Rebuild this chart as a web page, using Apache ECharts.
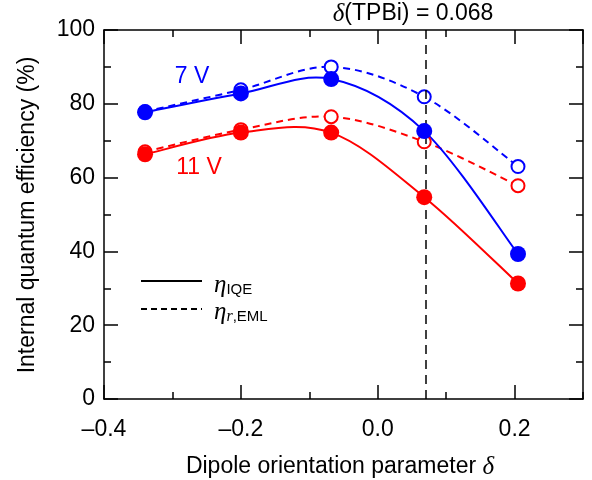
<!DOCTYPE html>
<html><head><meta charset="utf-8">
<script src="https://cdn.jsdelivr.net/npm/echarts@6/dist/echarts.min.js"></script>
<style>html,body{margin:0;padding:0;background:#fff}#c{width:592px;height:480px}</style>
</head><body><div id="c"></div>
<script>
// ---- data ----
const deltaValues = [-0.34, -0.2, -0.068, 0.068, 0.205];
const iqe7V  = [77.7, 82.8, 86.7, 72.6, 39.3];
const eml7V  = [77.9, 83.8, 90.0, 81.9, 63.0];
const iqe11V = [66.3, 72.2, 72.2, 54.7, 31.3];
const eml11V = [67.0, 73.0, 76.5, 69.7, 57.8];
const deltaTPBi = 0.068;
const xLabels = ['\u20130.4', '\u20130.2', '0.0', '0.2'];
const yLabels = ['0', '20', '40', '60', '80', '100'];

const FONT = 'Liberation Sans';
const BLUE = '#0000ff', RED = '#ff0000';
const pair = (xs, ys) => xs.map((x, i) => [x, ys[i]]);

const chart = echarts.init(document.getElementById('c'), null, {renderer: 'canvas'});

const baseX = {type: 'value', min: -0.4, max: 0.3, gridIndex: 0, splitLine: {show: false}};
const baseY = {type: 'value', min: 0, max: 100, interval: 20, gridIndex: 0, splitLine: {show: false}};
const lineStyleAxis = {color: '#000', width: 1.5};

function fmtX(v) {
  const idx = Math.round((v + 0.4) / 0.2);
  return xLabels[idx] !== undefined ? xLabels[idx] : '';
}

// smooth spline curve through the data points, drawn via the chart's own coordinates
function curveSeries(ys, color, dash, z) {
  const n = ys.length;
  return {
    type: 'custom', coordinateSystem: 'cartesian2d', xAxisIndex: 0, yAxisIndex: 0,
    z: z, silent: true, animation: false,
    data: pair(deltaValues, ys),
    renderItem: function (params, api) {
      const i = params.dataIndex;
      if (i >= n - 1) return null;
      const P = k => {
        const kk = Math.max(0, Math.min(n - 1, k));
        return api.coord([deltaValues[kk], ys[kk]]);
      };
      const p0 = P(i - 1), p1 = P(i), p2 = P(i + 1), p3 = P(i + 2);
      const t = 1 / 6;
      return {
        type: 'bezierCurve',
        shape: {
          x1: p1[0], y1: p1[1], x2: p2[0], y2: p2[1],
          cpx1: p1[0] + (p2[0] - p0[0]) * t, cpy1: p1[1] + (p2[1] - p0[1]) * t,
          cpx2: p2[0] - (p3[0] - p1[0]) * t, cpy2: p2[1] - (p3[1] - p1[1]) * t
        },
        style: {stroke: color, lineWidth: 2, fill: null, lineDash: dash}
      };
    }
  };
}

function markerSeries(ys, color, open, z) {
  return {
    type: 'line', data: pair(deltaValues, ys), z: z,
    symbol: open ? 'emptyCircle' : 'circle', symbolSize: open ? 13 : 16,
    lineStyle: {opacity: 0, width: 0},
    itemStyle: open ? {color: color, borderColor: color, borderWidth: 2}
                    : {color: color, borderWidth: 0}
  };
}

const option = {
  animation: false,
  backgroundColor: '#fff',
  grid: {left: 104, right: 9, top: 30, bottom: 81},
  xAxis: [
    Object.assign({}, baseX, {
      position: 'bottom', interval: 0.2,
      axisLine: {show: true, onZero: false, lineStyle: lineStyleAxis},
      axisTick: {show: true, inside: true, length: 14, lineStyle: lineStyleAxis},
      axisLabel: {show: true, showMaxLabel: false, formatter: fmtX, margin: 19,
        fontFamily: FONT, fontSize: 23, color: '#000'}
    }),
    Object.assign({}, baseX, {
      position: 'bottom', interval: 0.1,
      axisLine: {show: false, onZero: false},
      axisTick: {show: true, inside: true, length: 7, lineStyle: lineStyleAxis},
      axisLabel: {show: false}
    }),
    Object.assign({}, baseX, {
      position: 'top', interval: 0.2,
      axisLine: {show: true, onZero: false, lineStyle: lineStyleAxis},
      axisTick: {show: true, inside: true, length: 14, lineStyle: lineStyleAxis},
      axisLabel: {show: false}
    }),
    Object.assign({}, baseX, {
      position: 'top', interval: 0.1,
      axisLine: {show: false, onZero: false},
      axisTick: {show: true, inside: true, length: 7, lineStyle: lineStyleAxis},
      axisLabel: {show: false}
    })
  ],
  yAxis: [
    Object.assign({}, baseY, {
      position: 'left',
      axisLine: {show: true, onZero: false, lineStyle: lineStyleAxis},
      axisTick: {show: true, inside: true, length: 14, lineStyle: lineStyleAxis},
      minorTick: {show: true, splitNumber: 2, length: 7, lineStyle: lineStyleAxis},
      axisLabel: {show: true, margin: 9, fontFamily: FONT, fontSize: 23, color: '#000',
        formatter: v => yLabels[Math.round(v / 20)]}
    }),
    Object.assign({}, baseY, {
      position: 'right',
      axisLine: {show: true, onZero: false, lineStyle: lineStyleAxis},
      axisTick: {show: true, inside: true, length: 14, lineStyle: lineStyleAxis},
      minorTick: {show: true, splitNumber: 2, length: 7, lineStyle: lineStyleAxis},
      axisLabel: {show: false}
    })
  ],
  series: [
    curveSeries(eml7V, BLUE, [7, 5], 2),
    curveSeries(eml11V, RED, [7, 5], 2),
    curveSeries(iqe7V, BLUE, null, 3),
    curveSeries(iqe11V, RED, null, 3),
    markerSeries(eml7V, BLUE, true, 4),
    markerSeries(eml11V, RED, true, 4),
    markerSeries(iqe7V, BLUE, false, 5),
    markerSeries(iqe11V, RED, false, 5),
    {
      type: 'line', data: [], z: 10,
      markLine: {
        silent: true, symbol: 'none', animation: false,
        label: {show: false},
        lineStyle: {color: '#000', width: 1.5, type: [9, 6]},
        data: [{xAxis: deltaTPBi}]
      }
    }
  ],
  graphic: [
    {type: 'text', x: 28, y: 215, rotation: Math.PI / 2, z: 20,
      style: {text: 'Internal quantum efficiency (%)', fontFamily: FONT, fontSize: 23,
        fill: '#000', align: 'center', verticalAlign: 'middle'}},
    {type: 'text', x: 340, y: 467, z: 20,
      style: {text: 'Dipole orientation parameter {d|\u03b4}', fontFamily: FONT, fontSize: 23,
        fill: '#000', align: 'center', verticalAlign: 'middle',
        rich: {d: {fontFamily: 'Liberation Serif', fontStyle: 'italic', fontSize: 25, fill: '#000'}}}},
    {type: 'text', x: 413, y: 14, z: 20,
      style: {text: '{d|\u03b4}(TPBi) = ' + deltaTPBi.toFixed(3), fontFamily: FONT, fontSize: 23,
        fill: '#000', align: 'center', verticalAlign: 'middle',
        rich: {d: {fontFamily: 'Liberation Serif', fontStyle: 'italic', fontSize: 25, fill: '#000'}}}},
    {type: 'text', x: 192, y: 77, z: 20,
      style: {text: '7 V', fontFamily: FONT, fontSize: 23, fill: BLUE, align: 'center', verticalAlign: 'middle'}},
    {type: 'text', x: 199, y: 168, z: 20,
      style: {text: '11 V', fontFamily: FONT, fontSize: 23, fill: RED, align: 'center', verticalAlign: 'middle'}},
    {type: 'line', z: 20, shape: {x1: 141, y1: 281, x2: 202, y2: 281},
      style: {stroke: '#000', lineWidth: 2}},
    {type: 'line', z: 20, shape: {x1: 141, y1: 309, x2: 202, y2: 309},
      style: {stroke: '#000', lineWidth: 2, lineDash: [6, 4]}},
    {type: 'text', x: 214, y: 285, z: 20,
      style: {text: '{e|\u03b7}{s|IQE}', fill: '#000', align: 'left', verticalAlign: 'middle',
        rich: {
          e: {fontFamily: 'Liberation Serif', fontStyle: 'italic', fontSize: 25, fill: '#000'},
          s: {fontFamily: FONT, fontSize: 15, fill: '#000', verticalAlign: 'bottom', padding: [8, 0, 0, 0]}
        }}},
    {type: 'text', x: 214, y: 312, z: 20,
      style: {text: '{e|\u03b7}{si|r}{s|,EML}', fill: '#000', align: 'left', verticalAlign: 'middle',
        rich: {
          e: {fontFamily: 'Liberation Serif', fontStyle: 'italic', fontSize: 25, fill: '#000'},
          si: {fontFamily: 'Liberation Serif', fontStyle: 'italic', fontSize: 16, fill: '#000', verticalAlign: 'bottom', padding: [8, 0, 0, 0]},
          s: {fontFamily: FONT, fontSize: 15, fill: '#000', verticalAlign: 'bottom', padding: [8, 0, 0, 0]}
        }}}
  ]
};
chart.setOption(option);
</script>
</body></html>
